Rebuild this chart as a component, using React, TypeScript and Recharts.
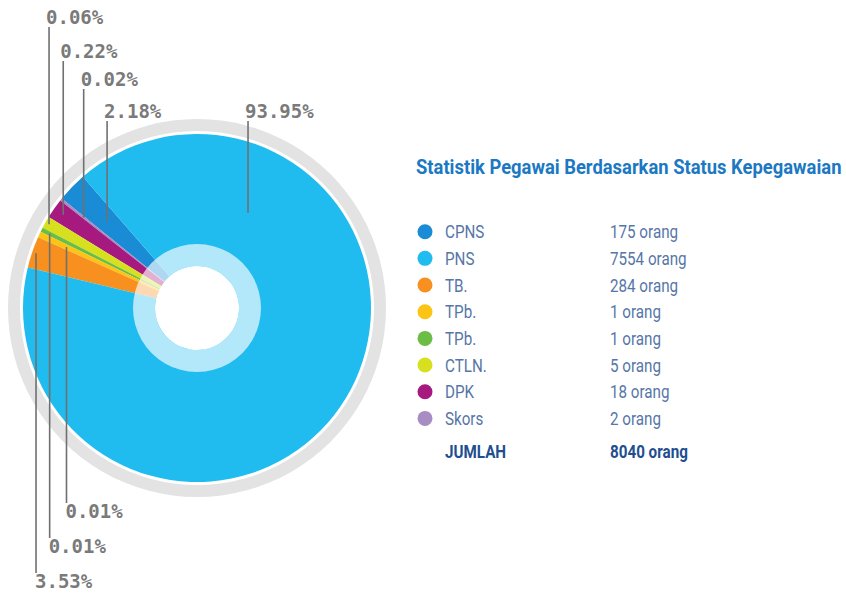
import React from 'react';
import { PieChart, Pie, Cell } from 'recharts';

// ---- data (legend order) ----
const categories = ['CPNS', 'PNS', 'TB.', 'TPb.', 'TPb.', 'CTLN.', 'DPK', 'Skors'];
const counts = [175, 7554, 284, 1, 1, 5, 18, 2];
const percentLabels = ['2.18', '93.95', '3.53', '0.01', '0.01', '0.06', '0.22', '0.02'];
// slice sizes as drawn in the picture (degrees of the circle)
const sliceShare = [10, 324.5, 10.5, 2, 1.5, 4, 6.7, 0.8];
const totalLabel = 'JUMLAH';
const totalValue = 8040;
const unit = 'orang';
const title = 'Statistik Pegawai Berdasarkan Status Kepegawaian';

// ---- style / layout ----
const colors = ['#1a8bd5', '#20bcef', '#f7901e', '#fcc414', '#6cbd45', '#d6e01f', '#a6197f', '#a88cc4'];
const pieOrder = [0, 7, 6, 5, 4, 3, 2, 1];
const labelSide = ['top', 'top', 'bottom', 'bottom', 'bottom', 'top', 'top', 'top'];
const labelTextY = [118, 118, 588, 518, 553, 24, 58, 86];
const labelAnchorR = [125, 108, 170, 144, 165, 170, 163, 145];
const labelAnchorAngle: (number | null)[] = [null, 61.8, null, null, null, null, null, null];

const CX = 197;
const CY = 308;
const RAD = Math.PI / 180;

const pieData = pieOrder.map((i) => ({ cat: i, name: categories[i], value: sliceShare[i] }));
const ringData = [{ value: 1 }];

const renderLabel = (props: any) => {
  const { cx, cy, midAngle, index } = props;
  const cat = pieData[index].cat;
  const ang = labelAnchorAngle[cat] ?? midAngle;
  const r = labelAnchorR[cat];
  const ax = cx + r * Math.cos(-ang * RAD);
  const ay = cy + r * Math.sin(-ang * RAD);
  const ty = labelTextY[cat];
  const top = labelSide[cat] === 'top';
  const y1 = top ? ty + 3 : ay;
  const y2 = top ? ay : ty - 15;
  const tx = top ? ax - 3 : ax - 1;
  return (
    <g key={`lbl-${index}`}>
      <line x1={ax} x2={ax} y1={y1} y2={y2} stroke="#707070" strokeWidth={1.6} />
      <text
        x={tx}
        y={ty}
        fill="#7a7a7a"
        fontFamily="'DejaVu Sans Mono', 'Liberation Mono', monospace"
        fontWeight="bold"
        fontSize={19}
        textAnchor="start"
      >
        {percentLabels[cat]}%
      </text>
    </g>
  );
};

const legendX = 425;
const legendTextX = 445;
const legendValX = 610;
const rowY0 = 231.7;
const rowStep = 26.67;
const condensed = 0.8;

const CondText = ({ x, y, children, bold, color, scale = condensed, size = 19 }: any) => (
  <g transform={`translate(${x},${y}) scale(${scale},1)`}>
    <text x={0} y={0} fill={color} fontFamily="Roboto, 'Noto Sans', sans-serif" fontSize={size} fontWeight={bold ? 'bold' : 'normal'}>
      {children}
    </text>
  </g>
);

export default function App() {
  return (
    <div style={{ position: 'absolute', left: 0, top: 0, width: 846, height: 594, background: '#ffffff' }}>
      <PieChart width={846} height={594} margin={{ top: 0, right: 0, bottom: 0, left: 0 }}>
        <Pie
          data={ringData}
          dataKey="value"
          cx={CX}
          cy={CY}
          innerRadius={177}
          outerRadius={189}
          fill="#e3e3e3"
          stroke="none"
          isAnimationActive={false}
        />
        <Pie
          data={pieData}
          dataKey="value"
          nameKey="name"
          cx={CX}
          cy={CY}
          innerRadius={42}
          outerRadius={174}
          startAngle={131}
          endAngle={491}
          stroke="none"
          label={renderLabel}
          labelLine={false}
          isAnimationActive={false}
        >
          {pieData.map((d) => (
            <Cell key={`c-${d.cat}`} fill={colors[d.cat]} />
          ))}
        </Pie>
        <Pie
          data={ringData}
          dataKey="value"
          cx={CX}
          cy={CY}
          innerRadius={42}
          outerRadius={64}
          fill="#ffffff"
          fillOpacity={0.66}
          stroke="none"
          isAnimationActive={false}
        />
      </PieChart>
      <svg width={846} height={594} style={{ position: 'absolute', left: 0, top: 0 }}>
        <CondText x={416} y={174} bold color="#1b78c2" scale={0.92} size={20}>{title}</CondText>
        {categories.map((c, i) => {
          const cy = rowY0 + i * rowStep;
          return (
            <g key={`lg-${i}`}>
              <circle cx={legendX} cy={cy} r={7.5} fill={colors[i]} />
              <CondText x={legendTextX} y={cy + 6.5} color="#5676a8">{c}</CondText>
              <CondText x={legendValX} y={cy + 6.5} color="#5676a8">{`${counts[i]} ${unit}`}</CondText>
            </g>
          );
        })}
        <CondText x={legendTextX} y={rowY0 + 8 * rowStep + 13} bold color="#1f4f8f">{totalLabel}</CondText>
        <CondText x={legendValX} y={rowY0 + 8 * rowStep + 13} bold color="#1f4f8f">{`${totalValue} ${unit}`}</CondText>
      </svg>
    </div>
  );
}
